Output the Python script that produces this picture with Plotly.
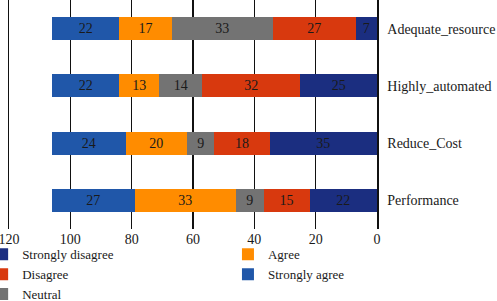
import plotly.graph_objects as go

categories = ["Performance", "Reduce_Cost", "Highly_automated", "Adequate_resource"]
strongly_disagree = [22, 35, 25, 7]
disagree = [15, 18, 32, 27]
neutral = [9, 9, 14, 33]
agree = [33, 20, 13, 17]
strongly_agree = [27, 24, 22, 22]
x_ticks = [0, 20, 40, 60, 80, 100, 120]

series = [
    ("Strongly disagree", strongly_disagree, "#1b2e80", "legend"),
    ("Disagree", disagree, "#d8390e", "legend"),
    ("Neutral", neutral, "#737373", "legend"),
    ("Agree", agree, "#ff8c00", "legend2"),
    ("Strongly agree", strongly_agree, "#2057a9", "legend2"),
]

FONT = "Liberation Serif"
fig = go.Figure()
for name, vals, color, leg in series:
    fig.add_trace(go.Bar(
        y=categories, x=vals, name=name, orientation="h",
        marker=dict(color=color, line=dict(width=0)),
        text=vals, textposition="inside", insidetextanchor="middle",
        textangle=0, constraintext="none",
        textfont=dict(family=FONT, size=14, color="#1a1a1a"),
        legend=leg,
    ))

legend_common = dict(
    orientation="v", yanchor="top", xanchor="left", traceorder="normal",
    font=dict(family=FONT, size=13, color="#1a1a1a"),
    bgcolor="rgba(0,0,0,0)", tracegroupgap=0,
)

fig.update_layout(
    barmode="stack",
    bargap=0.6,
    width=497, height=301,
    margin=dict(l=9, r=120, t=0, b=72, autoexpand=False),
    paper_bgcolor="white", plot_bgcolor="white",
    font=dict(family=FONT, size=14, color="#1a1a1a"),
    showlegend=True,
    legend=dict(x=-0.073, y=-0.045, **legend_common),
    legend2=dict(x=0.595, y=-0.045, **legend_common),
    xaxis=dict(
        range=[120, 0], tickvals=x_ticks, ticktext=[str(v) for v in x_ticks],
        showgrid=True, gridcolor="#111", gridwidth=1.5,
        zeroline=False, showline=False, ticks="", fixedrange=True,
        automargin=False, ticklabeloverflow="allow",
    ),
    yaxis=dict(
        side="right", showgrid=False, zeroline=False,
        showline=True, mirror=True, linecolor="#111", linewidth=1.5,
        ticks="", ticklabelstandoff=6, range=[-0.5, 3.5], automargin=False,
        fixedrange=True,
    ),
)

fig.write_html(
    "out.html",
    config={"displayModeBar": False, "staticPlot": True},
    post_script="document.body.style.margin='0';document.body.style.overflow='hidden';",
)
